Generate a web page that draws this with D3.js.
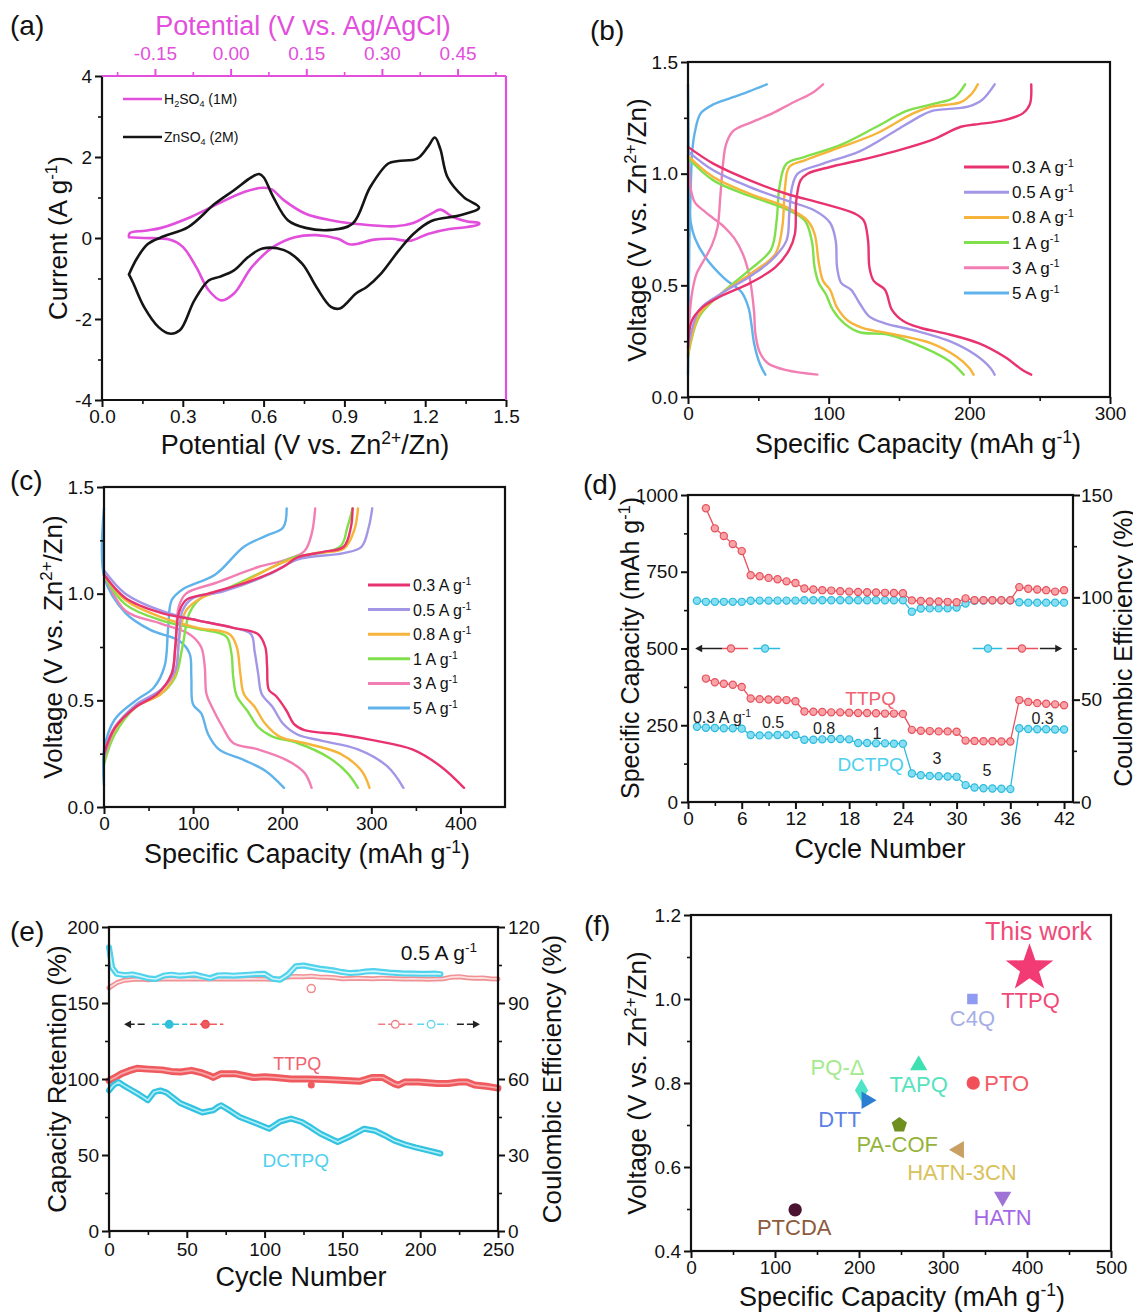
<!DOCTYPE html>
<html><head><meta charset="utf-8">
<script src="https://cdn.jsdelivr.net/npm/d3@7"></script>
<style>body{margin:0;background:#fff}</style>
</head><body>
<svg id="fig" width="1133" height="1312" xmlns="http://www.w3.org/2000/svg"></svg>
<script>
// ================= DATA =================
// (a) cyclic voltammetry: [potential V vs Zn, current A/g]
const cvZnSO4 = [[0.10,-0.9],[0.13,-0.5],[0.17,-0.15],[0.22,0.02],[0.32,0.27],[0.42,0.85],[0.49,1.18],[0.555,1.5],[0.583,1.58],[0.60,1.5],[0.636,1.01],[0.69,0.44],[0.756,0.25],[0.85,0.2],[0.93,0.35],[0.996,1.26],[1.063,1.84],[1.10,1.9],[1.17,1.96],[1.21,2.25],[1.236,2.48],[1.256,2.2],[1.283,1.5],[1.343,1.01],[1.40,0.75],
  [1.33,0.56],[1.223,0.42],[1.156,0.1],[1.103,-0.3],[1.036,-0.88],[0.983,-1.21],[0.943,-1.37],[0.883,-1.74],[0.85,-1.7],[0.796,-1.21],[0.743,-0.63],[0.676,-0.3],[0.596,-0.26],[0.543,-0.47],[0.49,-0.8],[0.436,-0.96],[0.396,-1.05],[0.343,-1.54],[0.289,-2.28],[0.25,-2.36],[0.21,-2.2],[0.156,-1.7],[0.115,-1.1],[0.10,-0.9]];
const cvH2SO4 = [[0.10,0.02],[0.103,0.12],[0.16,0.18],[0.22,0.25],[0.33,0.52],[0.42,0.81],[0.53,1.14],[0.60,1.24],[0.63,1.2],[0.676,0.93],[0.756,0.6],[0.85,0.44],[0.956,0.34],[1.09,0.29],[1.156,0.37],[1.223,0.6],[1.256,0.7],[1.303,0.52],[1.356,0.41],[1.40,0.37],
  [1.40,0.34],[1.356,0.27],[1.29,0.22],[1.21,0.1],[1.143,-0.07],[1.076,-0.02],[1.01,-0.04],[0.923,-0.16],[0.876,-0.02],[0.796,0.07],[0.716,0.02],[0.636,-0.22],[0.556,-0.72],[0.49,-1.37],[0.443,-1.54],[0.396,-1.29],[0.35,-0.72],[0.30,-0.22],[0.25,-0.04],[0.156,0.0],[0.10,0.02]];
const cvLegend = ["H_{2}SO_{4} (1M)", "ZnSO_{4} (2M)"];

// (b),(c) rate labels
const rateLabels = ["0.3 A g^{-1}","0.5 A g^{-1}","0.8 A g^{-1}","1 A g^{-1}","3 A g^{-1}","5 A g^{-1}"];
// (b) charge / discharge curves: [capacity mAh/g, voltage V]
const bCharge = [
 [[0,0.22],[2.6,0.34],[10,0.40],[23,0.45],[44,0.51],[62,0.58],[72,0.66],[76,0.73],[77,0.88],[80,0.97],[85,1.0],[101,1.03],[122,1.06],[147,1.10],[173,1.15],[194,1.21],[204,1.22],[225,1.24],[238,1.27],[243,1.31],[244,1.40]],
 [[0,0.22],[8,0.39],[23,0.46],[44,0.54],[59,0.61],[70,0.70],[72,0.82],[74,0.94],[78,1.0],[96,1.045],[122,1.10],[147,1.19],[163,1.25],[173,1.28],[199,1.30],[209,1.33],[218,1.40]],
 [[0,0.19],[8,0.37],[23,0.46],[44,0.55],[62,0.64],[67,0.76],[69,0.94],[72,1.03],[83,1.06],[109,1.12],[134,1.18],[160,1.27],[173,1.30],[194,1.32],[202,1.36],[206,1.40]],
 [[0,0.18],[8,0.36],[23,0.46],[44,0.57],[59,0.66],[63,0.79],[65,0.94],[70,1.045],[83,1.075],[109,1.13],[134,1.21],[155,1.28],[173,1.31],[189,1.34],[197,1.40]],
 [[0,0.18],[1,0.35],[3,0.47],[6,0.55],[12,0.62],[17,0.68],[21,0.76],[23,0.9],[25,1.05],[27,1.13],[32,1.19],[45,1.23],[60,1.27],[75,1.32],[88,1.36],[96,1.40]],
 [[0,0.1],[0.5,0.4],[1,0.7],[2,0.95],[3,1.1],[5,1.19],[9,1.27],[18,1.31],[31,1.34],[44,1.37],[56,1.40]]
];
const bDischarge = [
 [[0,1.12],[18,1.045],[44,0.97],[70,0.91],[96,0.866],[119,0.82],[125,0.79],[128,0.70],[129,0.58],[132,0.52],[140,0.48],[145,0.39],[153,0.34],[165,0.31],[186,0.28],[207,0.24],[225,0.18],[238,0.12],[244,0.10]],
 [[0,1.10],[18,1.015],[44,0.94],[70,0.88],[90,0.835],[101,0.78],[105,0.70],[106,0.58],[109,0.51],[116,0.48],[122,0.42],[129,0.36],[140,0.33],[160,0.30],[186,0.25],[204,0.19],[215,0.13],[218,0.10]],
 [[0,1.08],[18,0.985],[44,0.91],[70,0.85],[85,0.79],[90,0.73],[93,0.60],[96,0.52],[101,0.48],[106,0.40],[114,0.34],[124,0.31],[147,0.28],[173,0.24],[191,0.18],[200,0.13],[203,0.10]],
 [[0,1.07],[18,0.97],[44,0.90],[70,0.84],[83,0.79],[88,0.70],[90,0.58],[93,0.51],[98,0.46],[103,0.39],[111,0.33],[122,0.29],[142,0.28],[168,0.22],[186,0.16],[196,0.10]],
 [[0,1.08],[1,1.0],[2,0.93],[5,0.87],[12,0.83],[18,0.80],[26,0.76],[33,0.71],[39,0.64],[43,0.56],[45,0.49],[47,0.38],[48,0.28],[51,0.2],[57,0.15],[70,0.12],[92,0.10]],
 [[0,1.4],[0.3,1.2],[0.6,1.0],[1,0.88],[2,0.78],[5,0.71],[13,0.62],[26,0.53],[38,0.47],[43,0.40],[45,0.33],[47,0.24],[51,0.15],[55,0.10]]
];
// (c)
const cCharge = [
 [[0,0.25],[12,0.37],[36,0.47],[60,0.53],[76,0.625],[80,0.75],[84,0.91],[92,0.97],[117,1.0],[165,1.06],[201,1.125],[217,1.17],[245,1.195],[269,1.22],[277,1.31],[279,1.40]],
 [[0,0.23],[12,0.37],[36,0.48],[64,0.55],[80,0.64],[84,0.78],[88,0.92],[100,0.98],[133,1.01],[185,1.09],[217,1.16],[269,1.19],[289,1.22],[297,1.31],[301,1.40]],
 [[0,0.22],[12,0.36],[36,0.47],[64,0.53],[80,0.625],[84,0.78],[92,0.92],[109,0.98],[145,1.03],[197,1.14],[237,1.19],[269,1.21],[281,1.30],[285,1.40]],
 [[0,0.2],[12,0.34],[36,0.47],[64,0.53],[80,0.61],[88,0.75],[96,0.91],[109,0.98],[141,1.03],[189,1.125],[213,1.17],[265,1.22],[273,1.31],[279,1.40]],
 [[0,0.25],[12,0.375],[36,0.47],[60,0.53],[76,0.625],[80,0.75],[84,0.94],[92,1.0],[125,1.05],[173,1.125],[205,1.16],[225,1.20],[233,1.28],[237,1.40]],
 [[0,0.1],[0.2,0.27],[12,0.41],[36,0.5],[56,0.56],[68,0.66],[72,0.84],[76,0.97],[88,1.02],[125,1.09],[157,1.22],[181,1.27],[201,1.31],[205,1.40]]
];
const cDischarge = [
 [[0,1.09],[24,0.98],[64,0.91],[105,0.875],[145,0.84],[173,0.81],[181,0.75],[183,0.66],[185,0.55],[193,0.52],[205,0.45],[213,0.39],[225,0.36],[265,0.34],[306,0.31],[346,0.27],[378,0.19],[404,0.09]],
 [[0,1.11],[24,1.0],[64,0.92],[105,0.875],[145,0.84],[165,0.81],[169,0.73],[173,0.625],[177,0.53],[189,0.47],[201,0.39],[217,0.34],[245,0.31],[285,0.27],[318,0.19],[336,0.09]],
 [[0,1.09],[24,0.97],[64,0.89],[105,0.84],[141,0.81],[149,0.75],[153,0.625],[157,0.53],[169,0.47],[181,0.39],[197,0.33],[225,0.30],[265,0.25],[289,0.17],[298,0.09]],
 [[0,1.085],[24,0.95],[64,0.875],[105,0.835],[137,0.80],[143,0.72],[145,0.61],[149,0.52],[161,0.45],[173,0.375],[189,0.33],[217,0.30],[253,0.23],[273,0.16],[285,0.09]],
 [[0,1.09],[24,0.92],[64,0.86],[96,0.81],[109,0.75],[113,0.66],[115,0.53],[121,0.47],[133,0.375],[145,0.30],[173,0.27],[205,0.22],[225,0.16],[233,0.09]],
 [[0,1.4],[0.2,1.08],[24,0.91],[52,0.83],[84,0.78],[96,0.72],[98,0.61],[100,0.48],[109,0.44],[117,0.34],[129,0.27],[157,0.22],[181,0.17],[202,0.09]]
];

// (d) rate performance
const dCyclesT = [2,3,4,5,6,7,8,9,10,11,12,13,14,15,16,17,18,19,20,21,22,23,24,25,26,27,28,29,30,31,32,33,34,35,36,37,38,39,40,41,42];
const dTTPQcap = [402,390,385,382,375, 337,335,334,333,332,328, 295,294,293,292,292,291,290,290,289,288,288,287, 235,232,231,230,230,229, 200,199,198,198,197,197, 332,326,322,320,318,315];
const dTTPQce  = [143.5,133.7,130,126,122.6, 110.8,110.3,109.5,108.8,107.8,107, 104.3,103.8,103.5,103.3,103,102.8,102.6,102.5,102.4,102.2,102.1,102, 98.5,98.2,98,98,97.8,97.6, 99.5,98.6,98.6,98.6,98.6,98.6, 105,104.2,103.8,103.5,102.8,103.5];
const dCyclesD = [1,2,3,4,5,6,7,8,9,10,11,12,13,14,15,16,17,18,19,20,21,22,23,24,25,26,27,28,29,30,31,32,33,34,35,36,37,38,39,40,41,42];
const dDCTPQcap = [245,242,241,240,240,239, 218,217,217,218,219,218, 203,203,204,205,205,204, 192,192,191,191,190,190, 93,87,85,84,83,82, 55,47,45,44,43,42, 240,238,237,237,236,236];
const dDCTPQce  = [98.3,97.8,97.8,97.8,97.8,97.8, 98.3,98.4,98.4,98.4,98.4,98.4, 98.6,98.6,98.6,98.6,98.6,98.6, 98.6,98.6,98.6,98.6,98.6,98.6, 93,94.5,94.6,94.6,94.7,95, 97,98.3,98.4,98.5,98.5,98.5, 97.6,97.4,97.4,97.4,97.4,97.4];
const dRateText = ["0.3 A g^{-1}","0.5","0.8","1","3","5","0.3"];
const dRatePos  = [[3.8,277],[9.5,261],[15.2,241],[21.1,225],[27.8,143],[33.4,104],[39.6,274]];

// (e) long cycling
const eCycT = [0,4,8,13,18,25,34,40,46,53,60,64,67,72,81,93,100,107,117,128,140,152,161,169,176,183,186,190,199,211,218,225,230,235,244,250];
const eRetT = [99,101,103.5,105.5,107,106.5,106,105,104.6,105.7,104,102.5,101,103.5,103.5,101,101.5,101,100,100,99.6,99,98.5,101,101,97,96,98,98,97,97,98,98,96,95,94];
const eCycD = [0,3,6,9,13,19,25,29,33,37,46,53,60,67,70,72,78,84,94,103,110,117,124,130,136,147,154,164,171,177,183,190,197,205,213];
const eRetD = [92.5,96,98,96,93.6,90,86,91.4,92.5,91,84,81,78,79.4,81.6,82.7,79,75,71,67.3,72,74,71.7,68,64,58.6,61.8,67.3,66,63,59.6,57,55,53,51];
const eCeCycT = [0,5,10,15,20,25,30,35,40,45,50,55,60,65,70,75,80,85,90,95,100,105,110,115,120,125,130,135,140,145,150,155,160,165,170,175,180,185,190,195,200,205,210,215,220,225,230,235,240,245,250];
const eCeT = [96,98,99,99.3,99.5,99.2,99.4,99.5,99.6,99.5,99.6,99.5,99.6,99.5,99.6,99.5,99.6,99.5,99.6,99.5,99.5,99.4,99.5,100.3,100.5,100.4,100.6,100.3,100.2,100.0,99.6,99.7,99.8,99.7,99.6,99.8,99.7,99.6,99.5,99.6,99.5,99.4,99.5,99.6,100.2,100.4,100.0,99.8,99.9,99.6,99.5];
const eCeCycD = [0,2,5,10,15,20,25,30,35,40,45,50,55,60,65,70,75,80,85,90,95,100,105,110,115,120,125,130,135,140,145,150,155,160,165,170,175,180,185,190,195,200,205,210,213];
const eCeD = [112,104,101.5,101,101.3,100.6,99.8,99.5,100.8,101.2,100.8,101,101.3,100.5,99.8,100.9,101,100.8,101,101.2,101.4,101.5,99.6,99.2,101.2,104.5,104.8,104.2,103.6,103.2,102.8,102.2,101.8,102,102.4,102.6,102.3,102,101.8,101.6,101.6,101.5,101.5,101.6,101.4];
const eOutlierRet = [130, 96];
const eOutlierCe = [130, 95.7];

// (f) comparison
const fNames = ["TTPQ","C4Q","TAPQ","PTO","PQ-Δ","DTT","PA-COF","HATN-3CN","HATN","PTCDA"];
const fCap   = [403,335,271,336,203,209,248,319,371,124];
const fVolt  = [1.073,1.0,0.842,0.80,0.783,0.759,0.70,0.641,0.529,0.498];

// ================= STYLE =================
const FF = "'Liberation Sans', Arial, Helvetica, sans-serif";
const rateColors = ["#e8336e","#a496e6","#f6b43a","#7fe04c","#f27fb4","#5fb2ea"];
const PINK = "#e24fdc";
const XT = 27, YT = 26; // axis title sizes
const fShapes = ["star","square","triUp","circle","diamond","triRight","pentagon","triLeft","triDown","circle"];
const fMarkColors = ["#f23a75","#8f9bf0","#3ee0b2","#f25058","#4fe3c8","#2b7fd0","#6f8f1f","#c9a063","#9f72d6","#4b1232"];
const fLabColors  = ["#f04a78","#a7aee6","#55e3bd","#f25a64","#a3ea8e","#5e7fe6","#95b33a","#d9c25a","#a566e6","#8d5a3c"];
const fLabOff = [[1,40],[0,27],[0,27],[11,8],[-24,-15],[-27,27],[-2,27],[3,30],[0,28],[-1,25]];
const fLabAnchor = ["middle","middle","middle","start","middle","middle","middle","middle","middle","middle"];

const svg = d3.select("#fig");

function rich(t, str, fs) {
  const parts = str.split(/(\^\{[^}]*\}|_\{[^}]*\})/).filter(p => p !== "");
  let shift = 0;
  parts.forEach(p => {
    let s = p, target = 0, small = false;
    if (p.startsWith("^{")) { s = p.slice(2,-1); target = -0.38*fs; small = true; }
    else if (p.startsWith("_{")) { s = p.slice(2,-1); target = 0.22*fs; small = true; }
    t.append("tspan").attr("dy", target - shift).attr("font-size", small ? fs*0.65 : fs).text(s);
    shift = target;
  });
}
function txt(g, x, y, str, o = {}) {
  const fs = o.fs || 20;
  const t = g.append("text").attr("x", x).attr("y", y).attr("font-family", FF)
    .attr("font-size", fs).attr("fill", o.fill || "#111").attr("text-anchor", o.anchor || "middle");
  if (o.rotate) t.attr("transform", `rotate(${o.rotate},${x},${y})`);
  if (o.weight) t.attr("font-weight", o.weight);
  rich(t, str, fs);
  return t;
}
function axis(g, scale, orient, pos, major, minor, fmt, o = {}) {
  const color = o.color || "#111", fs = o.fs || 19;
  const mk = {bottom: d3.axisBottom, left: d3.axisLeft, top: d3.axisTop, right: d3.axisRight}[orient];
  const tr = (orient === "bottom" || orient === "top") ? `translate(0,${pos})` : `translate(${pos},0)`;
  const a = g.append("g").attr("transform", tr)
    .call(mk(scale).tickValues(major).tickSize(7).tickPadding(o.pad ?? 3).tickFormat(fmt));
  a.select(".domain").remove();
  a.selectAll(".tick line").attr("stroke", color).attr("stroke-width", 2);
  a.selectAll(".tick text").attr("font-family", FF).attr("font-size", fs).attr("fill", color);
  if (minor) {
    const m = g.append("g").attr("transform", tr).call(mk(scale).tickValues(minor).tickSize(4).tickFormat(""));
    m.select(".domain").remove();
    m.selectAll(".tick line").attr("stroke", color).attr("stroke-width", 1.6);
  }
}
function box(g, L, T, R, B, color) {
  g.append("rect").attr("x", L).attr("y", T).attr("width", R - L).attr("height", B - T)
    .attr("fill", "none").attr("stroke", color || "#111").attr("stroke-width", 2.2);
}
const smooth = d3.curveCatmullRom.alpha(0.5);
function path(g, data, x, y, color, w, curve) {
  return g.append("path").attr("d", d3.line().x(d => x(d[0])).y(d => y(d[1])).curve(curve || smooth)(data))
    .attr("fill", "none").attr("stroke", color).attr("stroke-width", w).attr("stroke-linejoin", "round").attr("stroke-linecap", "round");
}
function zip(a, b) { return a.map((v, i) => [v, b[i]]); }
function arrowHead(g, x, y, dir, color) {
  const s = 7;
  g.append("path").attr("d", `M${x},${y} L${x - dir * s},${y - s * 0.55} L${x - dir * s},${y + s * 0.55} Z`).attr("fill", color);
}
const f1 = d => d.toFixed(1);
const fi = d => String(d);

// panel labels
[["(a)",10,35],["(b)",590,40],["(c)",10,490],["(d)",583,494],["(e)",10,941],["(f)",584,935]].forEach(p =>
  txt(svg, p[1], p[2], p[0], {fs: 28, anchor: "start"}));

// ================= (a) =================
(function () {
  const L = 102, R = 506, T = 76, B = 400;
  const g = svg.append("g");
  const x = d3.scaleLinear().domain([0, 1.5]).range([L, R]);
  const xTop = d3.scaleLinear().domain([-0.255, 0.546]).range([L, R]);
  const y = d3.scaleLinear().domain([-4, 4]).range([B, T]);
  path(g, cvH2SO4, x, y, PINK, 2.6);
  path(g, cvZnSO4, x, y, "#151515", 2.6);
  g.append("line").attr("x1", L).attr("x2", R).attr("y1", B).attr("y2", B).attr("stroke", "#111").attr("stroke-width", 2.2);
  g.append("line").attr("x1", L).attr("x2", L).attr("y1", T).attr("y2", B).attr("stroke", "#111").attr("stroke-width", 2.2);
  g.append("line").attr("x1", L).attr("x2", R).attr("y1", T).attr("y2", T).attr("stroke", PINK).attr("stroke-width", 2.2);
  g.append("line").attr("x1", R).attr("x2", R).attr("y1", T).attr("y2", B).attr("stroke", PINK).attr("stroke-width", 2.2);
  axis(g, x, "bottom", B, [0, 0.3, 0.6, 0.9, 1.2, 1.5], [0.15, 0.45, 0.75, 1.05, 1.35], f1);
  axis(g, y, "left", L, [-4, -2, 0, 2, 4], [-3, -1, 1, 3], fi);
  axis(g, xTop, "top", T, [-0.15, 0, 0.15, 0.30, 0.45], [-0.225, -0.075, 0.075, 0.225, 0.375, 0.525], d => d.toFixed(2), {color: PINK, pad: 9});
  txt(g, 305, 454, "Potential (V vs. Zn^{2+}/Zn)", {fs: XT});
  txt(g, 303, 35, "Potential (V vs. Ag/AgCl)", {fs: XT, fill: PINK});
  txt(g, 67, 238, "Current (A g^{-1})", {fs: YT, rotate: -90});
  // legend
  [[PINK, 99], ["#151515", 137]].forEach((c, i) => {
    g.append("line").attr("x1", 123).attr("x2", 162).attr("y1", c[1]).attr("y2", c[1]).attr("stroke", c[0]).attr("stroke-width", 2.6);
    txt(g, 164, c[1] + 5, cvLegend[i], {fs: 14, anchor: "start"});
  });
})();

// ================= (b) & (c) =================
function gcdPanel(L, R, T, B, xmax, xMajor, xMinor, charge, discharge, leg) {
  const g = svg.append("g");
  const x = d3.scaleLinear().domain([0, xmax]).range([L, R]);
  const y = d3.scaleLinear().domain([0, 1.5]).range([B, T]);
  for (let i = charge.length - 1; i >= 0; i--) {
    path(g, discharge[i], x, y, rateColors[i], 2.4);
    path(g, charge[i], x, y, rateColors[i], 2.4);
  }
  box(g, L, T, R, B);
  axis(g, x, "bottom", B, xMajor, xMinor, fi);
  axis(g, y, "left", L, [0, 0.5, 1.0, 1.5], [0.25, 0.75, 1.25], f1);
  rateLabels.forEach((s, i) => {
    const yy = leg.y0 + i * leg.dy;
    g.append("line").attr("x1", leg.x1).attr("x2", leg.x2).attr("y1", yy).attr("y2", yy).attr("stroke", rateColors[i]).attr("stroke-width", 3);
    txt(g, leg.x2 + 3, yy + 6, s, {fs: leg.fs, anchor: "start"});
  });
  return {g, x, y};
}
(function () {
  const p = gcdPanel(688, 1110, 62, 397, 300, [0, 100, 200, 300], [50, 150, 250], bCharge, bDischarge,
    {x1: 964, x2: 1009, y0: 167, dy: 25.2, fs: 17});
  txt(p.g, 918, 453, "Specific Capacity (mAh g^{-1})", {fs: XT});
  txt(p.g, 646, 230, "Voltage (V vs. Zn^{2+}/Zn)", {fs: YT, rotate: -90});
})();
(function () {
  const p = gcdPanel(104, 505, 487, 807, 450, [0, 100, 200, 300, 400], [50, 150, 250, 350], cCharge, cDischarge,
    {x1: 368, x2: 410, y0: 585, dy: 24.6, fs: 16});
  txt(p.g, 307, 863, "Specific Capacity (mAh g^{-1})", {fs: XT});
  txt(p.g, 62, 647, "Voltage (V vs. Zn^{2+}/Zn)", {fs: YT, rotate: -90});
})();

// ================= (d) =================
(function () {
  const L = 688, R = 1073, T = 495, B = 802;
  const g = svg.append("g");
  const x = d3.scaleLinear().domain([0, 43]).range([L, R]);
  const y = d3.scaleLinear().domain([0, 1000]).range([B, T]);
  const y2 = d3.scaleLinear().domain([0, 150]).range([B, T]);
  const RED = "#e8505c", REDF = "#f7a3a7", CY = "#2cbadc", CYF = "#86def2";
  const series = [
    [zip(dCyclesD, dDCTPQce), y2, CY, CYF],
    [zip(dCyclesT, dTTPQce), y2, RED, REDF],
    [zip(dCyclesD, dDCTPQcap), y, CY, CYF],
    [zip(dCyclesT, dTTPQcap), y, RED, REDF]
  ];
  series.forEach(s => {
    path(g, s[0], x, s[1], s[2], 1.3, d3.curveLinear);
    g.append("g").selectAll("circle").data(s[0]).join("circle")
      .attr("cx", d => x(d[0])).attr("cy", d => s[1](d[1])).attr("r", 3.6)
      .attr("fill", s[3]).attr("stroke", s[2]).attr("stroke-width", 1.2);
  });
  // arrows
  const ya = y(500);
  const seg = (x1, x2, c) => g.append("line").attr("x1", x(x1)).attr("x2", x(x2)).attr("y1", ya).attr("y2", ya).attr("stroke", c).attr("stroke-width", 1.5);
  const dot = (xc, c, f) => g.append("circle").attr("cx", x(xc)).attr("cy", ya).attr("r", 3.6).attr("fill", f).attr("stroke", c).attr("stroke-width", 1.2);
  seg(1.2, 3.8, "#222"); arrowHead(g, x(0.8), ya, -1, "#222");
  seg(3.8, 6.7, RED); dot(4.8, RED, REDF);
  seg(7.3, 10.3, CY); dot(8.6, CY, CYF);
  seg(31.8, 35.1, CY); dot(33.5, CY, CYF);
  seg(35.6, 39.1, RED); dot(37.3, RED, REDF);
  seg(39.3, 41.4, "#222"); arrowHead(g, x(41.8), ya, 1, "#222");
  box(g, L, T, R, B);
  axis(g, x, "bottom", B, [0, 6, 12, 18, 24, 30, 36, 42], [3, 9, 15, 21, 27, 33, 39], fi);
  axis(g, y, "left", L, [0, 250, 500, 750, 1000], [125, 375, 625, 875], fi);
  axis(g, y2, "right", R, [0, 50, 100, 150], [25, 75, 125], fi, {pad: 1});
  txt(g, 880, 858, "Cycle Number", {fs: XT});
  txt(g, 639, 648, "Specific Capacity (mAh g^{-1})", {fs: 25, rotate: -90});
  txt(g, 1132, 648, "Coulombic Efficiency (%)", {fs: 25, rotate: -90});
  txt(g, x(20.4), y(339) + 7, "TTPQ", {fs: 19, fill: "#f06270"});
  txt(g, x(20.4), y(124) + 7, "DCTPQ", {fs: 19, fill: "#4fd0ee"});
  dRateText.forEach((s, i) => txt(g, x(dRatePos[i][0]), y(dRatePos[i][1]) + 6, s, {fs: 16, fill: "#222"}));
})();

// ================= (e) =================
(function () {
  const L = 109, R = 498, T = 927, B = 1231;
  const g = svg.append("g");
  const x = d3.scaleLinear().domain([0, 250]).range([L, R]);
  const y = d3.scaleLinear().domain([0, 200]).range([B, T]);
  const y2 = d3.scaleLinear().domain([0, 120]).range([B, T]);
  const band = (data, sc, outer, inner, w) => {
    path(g, data, x, sc, outer, w, d3.curveLinear);
    path(g, data, x, sc, inner, 1.6, d3.curveLinear);
  };
  band(zip(eCeCycT, eCeT), y2, "#f09295", "#fde0e0", 5);
  band(zip(eCeCycD, eCeD), y2, "#4fd2ec", "#d2f6fc", 6);
  band(zip(eCycT, eRetT), y, "#ef5a5e", "#f8a8aa", 7);
  band(zip(eCycD, eRetD), y, "#33c3e0", "#b0eef9", 6);
  g.append("circle").attr("cx", x(eOutlierCe[0])).attr("cy", y2(eOutlierCe[1])).attr("r", 4).attr("fill", "#fff").attr("stroke", "#f08a8c").attr("stroke-width", 1.5);
  g.append("circle").attr("cx", x(eOutlierRet[0])).attr("cy", y(eOutlierRet[1])).attr("r", 3.5).attr("fill", "#ef5a5e");
  // arrows
  const ya = y(136);
  const seg = (x1, x2, c) => g.append("line").attr("x1", x(x1)).attr("x2", x(x2)).attr("y1", ya).attr("y2", ya).attr("stroke", c).attr("stroke-width", 1.6).attr("stroke-dasharray", "7,3");
  const dot = (xc, c, f) => g.append("circle").attr("cx", x(xc)).attr("cy", ya).attr("r", 3.8).attr("fill", f).attr("stroke", c).attr("stroke-width", 1.3);
  seg(12, 24.5, "#222"); arrowHead(g, x(9.7), ya, -1, "#222");
  seg(27.7, 50.3, "#2fc0dc"); dot(38.7, "#2fc0dc", "#2fc0dc");
  seg(52, 73.5, "#ef5a5e"); dot(62, "#e8484e", "#ef5a5e");
  seg(173, 195, "#f07a80"); dot(184, "#f07a80", "#fff");
  seg(198, 218, "#5fd6ee"); dot(207, "#5fd6ee", "#fff");
  seg(223.6, 236, "#222"); arrowHead(g, x(238.4), ya, 1, "#222");
  box(g, L, T, R, B);
  axis(g, x, "bottom", B, [0, 50, 100, 150, 200, 250], [25, 75, 125, 175, 225], fi, {pad: 5});
  axis(g, y, "left", L, [0, 50, 100, 150, 200], [25, 75, 125, 175], fi);
  axis(g, y2, "right", R, [0, 30, 60, 90, 120], [15, 45, 75, 105], fi);
  txt(g, 301, 1286, "Cycle Number", {fs: XT});
  txt(g, 66, 1079, "Capacity Retention (%)", {fs: YT, rotate: -90});
  txt(g, 561, 1079, "Coulombic Efficiency (%)", {fs: YT, rotate: -90});
  txt(g, x(212), y(183.5) + 8, "0.5 A g^{-1}", {fs: 21, fill: "#111"});
  txt(g, x(121), y(110.5) + 7, "TTPQ", {fs: 18, fill: "#f06270"});
  txt(g, x(120), y(46.7) + 7, "DCTPQ", {fs: 19, fill: "#4fd0ee"});
})();

// ================= (f) =================
(function () {
  const L = 691, R = 1111, T = 915, B = 1251;
  const g = svg.append("g");
  const x = d3.scaleLinear().domain([0, 500]).range([L, R]);
  const y = d3.scaleLinear().domain([0.4, 1.2]).range([B, T]);
  function shapePath(s) {
    if (s === "star") {
      const pts = [];
      for (let k = 0; k < 10; k++) {
        const r = k % 2 ? 10 : 25, a = -Math.PI / 2 + k * Math.PI / 5;
        pts.push([r * Math.cos(a), r * Math.sin(a)]);
      }
      return "M" + pts.map(p => p.join(",")).join("L") + "Z";
    }
    if (s === "pentagon") {
      const pts = [];
      for (let k = 0; k < 5; k++) { const a = -Math.PI / 2 + k * 2 * Math.PI / 5; pts.push([8 * Math.cos(a), 8 * Math.sin(a)]); }
      return "M" + pts.map(p => p.join(",")).join("L") + "Z";
    }
    if (s === "square") return d3.symbol(d3.symbolSquare, 110)();
    if (s === "circle") return d3.symbol(d3.symbolCircle, 140)();
    if (s === "diamond") return d3.symbol(d3.symbolDiamond, 150)();
    return d3.symbol(d3.symbolTriangle, 130)();
  }
  const rot = {triUp: 0, triRight: 90, triDown: 180, triLeft: -90};
  fNames.forEach((n, i) => {
    const cx = x(fCap[i]), cy = y(fVolt[i]);
    g.append("path").attr("d", shapePath(fShapes[i]))
      .attr("transform", `translate(${cx},${cy}) rotate(${rot[fShapes[i]] || 0})`)
      .attr("fill", fMarkColors[i]);
    txt(g, cx + fLabOff[i][0], cy + fLabOff[i][1], n, {fs: 22, fill: fLabColors[i], anchor: fLabAnchor[i]});
  });
  txt(g, x(fCap[0]) + 9, y(fVolt[0]) - 28, "This work", {fs: 25, fill: fLabColors[0]});
  box(g, L, T, R, B);
  axis(g, x, "bottom", B, [0, 100, 200, 300, 400, 500], [50, 150, 250, 350, 450], fi);
  axis(g, y, "left", L, [0.4, 0.6, 0.8, 1.0, 1.2], [0.5, 0.7, 0.9, 1.1], f1);
  txt(g, 902, 1306, "Specific Capacity (mAh g^{-1})", {fs: XT});
  txt(g, 646, 1083, "Voltage (V vs. Zn^{2+}/Zn)", {fs: YT, rotate: -90});
})();
</script>
</body></html>
